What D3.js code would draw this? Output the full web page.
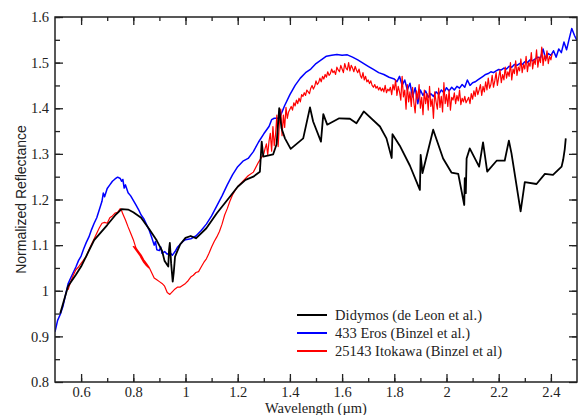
<!DOCTYPE html>
<html>
<head>
<meta charset="utf-8">
<script src="https://cdn.jsdelivr.net/npm/d3@7"></script>
<style>
  body { margin: 0; background: #fff; }
</style>
</head>
<body>
<div id="chart"></div>
<script>
// Didymos (de Leon et al.) - sparse spectrum, [wavelength um, reflectance]
var didymos = [
  [0.52,0.950],[0.55,1.010],[0.58,1.035],[0.60,1.053],[0.65,1.111],[0.70,1.144],[0.73,1.165],
  [0.755,1.179],[0.78,1.178],[0.80,1.172],[0.83,1.160],[0.86,1.136],[0.89,1.110],[0.91,1.088],
  [0.92,1.065],[0.934,1.053],[0.937,1.090],[0.940,1.105],[0.945,1.060],[0.951,1.020],[0.955,1.040],
  [0.96,1.075],[0.98,1.102],[1.00,1.116],[1.02,1.120],[1.04,1.115],[1.08,1.137],[1.12,1.170],
  [1.17,1.206],[1.20,1.228],[1.23,1.243],[1.26,1.250],[1.285,1.261],[1.292,1.327],[1.298,1.294],
  [1.336,1.299],[1.349,1.321],[1.359,1.400],[1.368,1.356],[1.381,1.334],[1.403,1.311],[1.451,1.334],
  [1.477,1.402],[1.489,1.371],[1.519,1.327],[1.528,1.387],[1.543,1.364],[1.589,1.378],[1.630,1.377],
  [1.655,1.367],[1.683,1.393],[1.745,1.360],[1.770,1.334],[1.790,1.291],[1.793,1.343],[1.821,1.318],
  [1.860,1.274],[1.898,1.221],[1.901,1.298],[1.908,1.258],[1.949,1.353],[1.987,1.290],[2.019,1.259],
  [2.045,1.256],[2.068,1.188],[2.070,1.247],[2.074,1.214],[2.077,1.290],[2.089,1.312],[2.125,1.272],
  [2.140,1.325],[2.156,1.261],[2.192,1.285],[2.223,1.285],[2.239,1.329],[2.249,1.301],[2.284,1.174],
  [2.300,1.238],[2.345,1.234],[2.377,1.256],[2.408,1.254],[2.441,1.272],[2.447,1.287],[2.453,1.310],
  [2.457,1.334]
];

// 433 Eros (Binzel et al.) - visible / near-IR part
var eros = [
  [0.50,0.910],[0.51,0.935],[0.52,0.948],[0.53,0.965],[0.54,0.990],[0.55,1.015],[0.56,1.028],
  [0.57,1.040],[0.58,1.052],[0.59,1.066],[0.60,1.076],[0.61,1.092],[0.62,1.106],[0.63,1.118],
  [0.64,1.134],[0.65,1.148],[0.66,1.160],[0.67,1.178],[0.68,1.196],[0.685,1.214],[0.69,1.206],
  [0.70,1.224],[0.71,1.232],[0.72,1.240],[0.73,1.245],[0.74,1.249],[0.75,1.246],[0.755,1.240],
  [0.76,1.244],[0.765,1.225],[0.77,1.232],[0.78,1.215],[0.79,1.208],[0.80,1.198],[0.81,1.188],
  [0.82,1.178],[0.83,1.166],[0.84,1.158],[0.85,1.146],[0.86,1.134],[0.87,1.118],[0.88,1.100],
  [0.885,1.108],[0.89,1.090],[0.90,1.088],[0.905,1.096],[0.91,1.082],[0.92,1.086],[0.93,1.080],
  [0.94,1.084],[0.95,1.078],[0.96,1.086],[0.97,1.096],[0.98,1.102],[0.99,1.108],[1.00,1.112],
  [1.02,1.114],[1.04,1.120],[1.06,1.132],[1.08,1.146],[1.10,1.164],[1.12,1.186],[1.14,1.208],
  [1.16,1.232],[1.18,1.254],[1.20,1.272],[1.22,1.284],[1.24,1.290],[1.26,1.305],[1.28,1.326],
  [1.30,1.344],[1.32,1.360],[1.33,1.375],[1.34,1.378],[1.36,1.378],[1.37,1.392],[1.38,1.406],
  [1.40,1.430],[1.42,1.450],[1.44,1.466],[1.46,1.478],[1.48,1.486],[1.50,1.498],[1.52,1.506],
  [1.54,1.514],[1.56,1.516],[1.58,1.518],[1.60,1.516],[1.62,1.517],[1.64,1.512],[1.66,1.506],
  [1.68,1.499],[1.70,1.492],[1.72,1.485],[1.74,1.478],[1.76,1.474],[1.78,1.468]
];
// Eros noisy tail, sampled every 0.01 um from 1.80
var erosTailStart = 1.80;
var erosTail = [
  1.464,1.458,1.470,1.450,1.462,1.440,1.455,1.425,1.445,1.410,1.440,1.428,1.438,1.424,1.432,1.426,
  1.436,1.430,1.440,1.434,1.445,1.438,1.446,1.440,1.448,1.444,1.452,1.446,1.462,1.450,1.456,1.458,
  1.462,1.466,1.470,1.474,1.476,1.480,1.478,1.482,1.485,1.484,1.488,1.486,1.492,1.490,1.496,1.494,
  1.498,1.496,1.502,1.500,1.506,1.504,1.508,1.512,1.510,1.530,1.508,1.520,1.516,1.526,1.512,1.530,
  1.522,1.545,1.528,1.552,1.575,1.560,1.548
];

// 25143 Itokawa (Binzel et al) - visible part, then the near-IR part starting again at 0.80
var itokawa = [
  [0.55,1.002],[0.56,1.020],[0.57,1.034],[0.58,1.046],[0.59,1.052],[0.60,1.060],[0.61,1.068],
  [0.62,1.075],[0.63,1.090],[0.64,1.102],[0.65,1.114],[0.66,1.126],[0.67,1.138],[0.68,1.148],
  [0.69,1.150],[0.70,1.148],[0.71,1.160],[0.72,1.164],[0.73,1.170],[0.74,1.172],[0.75,1.180],
  [0.755,1.176],[0.76,1.168],[0.77,1.155],[0.78,1.140],[0.79,1.126],[0.80,1.112],[0.81,1.094],
  [0.82,1.084],[0.83,1.072],[0.84,1.062],[0.85,1.055],[0.86,1.050],
  [0.80,1.097],[0.81,1.094],[0.82,1.086],[0.83,1.078],[0.84,1.068],[0.85,1.060],[0.86,1.052],
  [0.87,1.040],[0.88,1.028],[0.89,1.024],[0.90,1.020],[0.91,1.016],[0.92,1.010],[0.93,0.996],
  [0.94,0.992],[0.95,0.998],[0.96,1.004],[0.97,1.008],[0.98,1.008],[0.99,1.012],[1.00,1.016],
  [1.01,1.022],[1.02,1.030],[1.03,1.034],[1.04,1.040],[1.05,1.042],[1.06,1.052],[1.07,1.062],
  [1.08,1.070],[1.09,1.082],[1.10,1.096],[1.11,1.108],[1.12,1.118],[1.13,1.130],[1.14,1.146],
  [1.15,1.166],[1.16,1.180],[1.17,1.196],[1.18,1.210],[1.19,1.220],[1.20,1.228],[1.22,1.240],
  [1.24,1.252],[1.26,1.260],[1.28,1.282]
];
// Itokawa noisy tail, sampled every 0.005 um from 1.30
var itokawaTailStart = 1.30;
var itokawaTail = [
  1.300,1.312,1.322,1.298,1.328,1.345,1.306,1.360,1.318,1.342,1.385,1.316,1.372,1.398,1.340,1.385,
  1.358,1.402,1.378,1.392,1.398,1.404,1.396,1.412,1.405,1.418,1.410,1.422,1.414,1.430,1.426,1.434,
  1.428,1.440,1.436,1.432,1.444,1.450,1.442,1.448,1.460,1.452,1.456,1.466,1.458,1.470,1.464,1.474,
  1.468,1.480,1.472,1.476,1.486,1.478,1.482,1.474,1.490,1.484,1.480,1.494,1.486,1.478,1.498,1.488,
  1.484,1.500,1.482,1.494,1.488,1.480,1.492,1.484,1.478,1.486,1.472,1.466,1.478,1.462,1.470,1.458,
  1.462,1.454,1.460,1.450,1.446,1.452,1.444,1.448,1.440,1.446,1.438,1.444,1.436,1.450,1.434,1.442,
  1.438,1.446,1.430,1.452,1.440,1.462,1.428,1.448,1.436,1.418,1.470,1.425,1.440,1.398,1.452,1.414,
  1.436,1.404,1.446,1.412,1.390,1.438,1.420,1.452,1.400,1.424,1.386,1.440,1.410,1.432,1.396,1.448,
  1.404,1.420,1.378,1.436,1.414,1.398,1.444,1.402,1.426,1.392,1.456,1.410,1.430,1.404,1.440,1.396,
  1.424,1.418,1.434,1.410,1.428,1.416,1.440,1.408,1.422,1.414,1.426,1.412,1.418,1.424,1.410,1.432,
  1.420,1.438,1.426,1.446,1.430,1.440,1.452,1.428,1.448,1.436,1.458,1.440,1.466,1.444,1.452,1.472,
  1.446,1.460,1.478,1.450,1.468,1.484,1.456,1.474,1.462,1.490,1.466,1.480,1.470,1.500,1.462,1.486,
  1.476,1.504,1.472,1.490,1.482,1.508,1.478,1.496,1.486,1.514,1.480,1.500,1.492,1.522,1.486,1.506,
  1.496,1.528,1.490,1.512,1.500,1.534,1.494,1.516,1.504,1.526,1.498,1.514,1.506,1.520
];

var xTicks = [0.6, 0.8, 1, 1.2, 1.4, 1.6, 1.8, 2, 2.2, 2.4];
var yTicks = [0.8, 0.9, 1, 1.1, 1.2, 1.3, 1.4, 1.5, 1.6];
var legendNames = ["Didymos (de Leon et al.)", "433 Eros (Binzel et al.)", "25143 Itokawa (Binzel et al)"];
var legendColors = ["#000000", "#0000ff", "#ff0000"];

var serif = "'Liberation Serif', 'Times New Roman', serif";
var sans = "'Liberation Sans', Arial, sans-serif";

var width = 581, height = 415;
var margin = {top: 17, right: 4, bottom: 33, left: 55};

var svg = d3.select("#chart").append("svg")
    .attr("width", width)
    .attr("height", height);

var x = d3.scaleLinear().domain([0.5, 2.5]).range([margin.left, width - margin.right]);
var y = d3.scaleLinear().domain([0.8, 1.6]).range([height - margin.bottom, margin.top]);

// full series, tails appended on their regular wavelength grid
var erosAll = eros.concat(erosTail.map(function(v, i) { return [erosTailStart + i * 0.01, v]; }));
var itokawaAll = itokawa.concat(itokawaTail.map(function(v, i) { return [itokawaTailStart + i * 0.005, v]; }));

svg.append("clipPath").attr("id", "plotclip")
  .append("rect")
    .attr("x", margin.left).attr("y", margin.top)
    .attr("width", width - margin.left - margin.right)
    .attr("height", height - margin.top - margin.bottom);

var line = d3.line()
    .x(function(d) { return x(d[0]); })
    .y(function(d) { return y(d[1]); });

var plot = svg.append("g").attr("clip-path", "url(#plotclip)");

plot.append("path").datum(erosAll)
    .attr("fill", "none").attr("stroke", "#0000ff").attr("stroke-width", 1.5)
    .attr("stroke-linejoin", "round").attr("d", line);

plot.append("path").datum(itokawaAll)
    .attr("fill", "none").attr("stroke", "#ff0000").attr("stroke-width", 1.2)
    .attr("stroke-linejoin", "round").attr("d", line);

plot.append("path").datum(didymos)
    .attr("fill", "none").attr("stroke", "#000000").attr("stroke-width", 1.8)
    .attr("stroke-linejoin", "round").attr("d", line);

// axes: ticks pointing inward on all four sides
var xMinor = d3.range(0.6, 2.5, 0.1);
var yMinor = d3.range(0.85, 1.6, 0.05);

function drawAxis(g, axis) {
  g.call(axis);
  g.attr("font-family", null).attr("font-size", null);
  g.select(".domain").remove();
  g.selectAll(".tick line").attr("stroke", "#222").attr("stroke-width", 1.3);
  g.selectAll(".tick text").attr("fill", "#222")
    .style("font-family", serif).style("font-size", "14.5px");
}

svg.append("g").attr("transform", "translate(0," + y(0.8) + ")")
  .call(drawAxis, d3.axisBottom(x).tickValues(xMinor).tickSize(-4).tickFormat(""));
svg.append("g").attr("transform", "translate(0," + y(0.8) + ")")
  .call(drawAxis, d3.axisBottom(x).tickValues(xTicks).tickSize(-8).tickPadding(5).tickFormat(d3.format("")));
svg.append("g").attr("transform", "translate(0," + y(1.6) + ")")
  .call(drawAxis, d3.axisTop(x).tickValues(xMinor).tickSize(-4).tickFormat(""));
svg.append("g").attr("transform", "translate(0," + y(1.6) + ")")
  .call(drawAxis, d3.axisTop(x).tickValues(xTicks).tickSize(-8).tickFormat(""));

svg.append("g").attr("transform", "translate(" + x(0.5) + ",0)")
  .call(drawAxis, d3.axisLeft(y).tickValues(yMinor).tickSize(-5).tickFormat(""));
svg.append("g").attr("transform", "translate(" + x(0.5) + ",0)")
  .call(drawAxis, d3.axisLeft(y).tickValues(yTicks).tickSize(-8).tickPadding(6).tickFormat(d3.format("")));
svg.append("g").attr("transform", "translate(" + x(2.5) + ",0)")
  .call(drawAxis, d3.axisRight(y).tickValues(yMinor).tickSize(-5).tickFormat(""));
svg.append("g").attr("transform", "translate(" + x(2.5) + ",0)")
  .call(drawAxis, d3.axisRight(y).tickValues(yTicks).tickSize(-8).tickFormat(""));

svg.append("rect")
    .attr("x", x(0.5)).attr("y", y(1.6))
    .attr("width", x(2.5) - x(0.5)).attr("height", y(0.8) - y(1.6))
    .attr("fill", "none").attr("stroke", "#222").attr("stroke-width", 1.5);

// axis titles
svg.append("text")
    .attr("x", (x(0.5) + x(2.5)) / 2).attr("y", 413)
    .attr("text-anchor", "middle").attr("fill", "#222")
    .style("font-family", serif).style("font-size", "14.5px")
    .text("Wavelength (\u00b5m)");

svg.append("text")
    .attr("transform", "translate(26," + (y(0.8) + y(1.6)) / 2 + ") rotate(-90)")
    .attr("text-anchor", "middle").attr("fill", "#222")
    .style("font-family", sans).style("font-size", "14px")
    .text("Normalized Reflectance");

// legend (text stretched to the widths seen in the original)
var legendWidths = [147, 135, 167];
var legend = svg.append("g");
var item = legend.selectAll("g").data(legendNames).enter().append("g")
    .attr("transform", function(d, i) { return "translate(297," + (315 + i * 18) + ")"; });
item.append("line")
    .attr("x1", 0).attr("x2", 30).attr("y1", 0).attr("y2", 0)
    .attr("stroke", function(d, i) { return legendColors[i]; })
    .attr("stroke-width", 2);
item.append("text")
    .attr("x", 38).attr("y", 5).attr("fill", "#222")
    .attr("textLength", function(d, i) { return legendWidths[i]; })
    .attr("lengthAdjust", "spacing")
    .style("font-family", serif).style("font-size", "14.5px")
    .text(function(d) { return d; });
</script>
</body>
</html>
